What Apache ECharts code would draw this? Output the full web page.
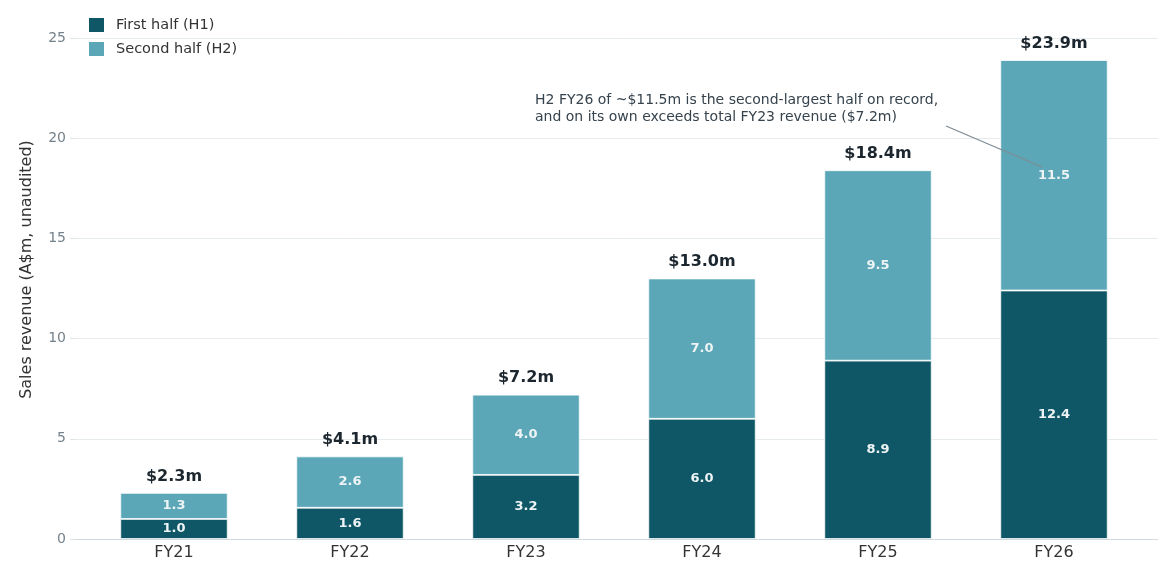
<!DOCTYPE html>
<html>
<head>
<meta charset="utf-8">
<script src="https://cdn.jsdelivr.net/npm/echarts@6/dist/echarts.min.js"></script>
</head>
<body style="margin:0;background:#fff;">
<div id="chart" style="width:1158px;height:569px;"></div>
<script>
    // data
    var years = ['FY21', 'FY22', 'FY23', 'FY24', 'FY25', 'FY26'];
    var firstHalf = [1.0, 1.56, 3.2, 6.0, 8.9, 12.4];
    var secondHalf = [1.3, 2.56, 4.0, 7.0, 9.5, 11.5];
    var yTicks = [0, 5, 10, 15, 20, 25];
    var totals = years.map(function (y, i) {
        return +(firstHalf[i] + secondHalf[i]).toFixed(2);
    });

    var font = 'DejaVu Sans';
    var c1 = '#0f5767';
    var c2 = '#5ba7b7';

    var myChart = echarts.init(document.getElementById('chart'));
    var option = {
        animation: false,
        textStyle: {fontFamily: font},
        legend: {
            orient: 'vertical',
            left: 82,
            top: 11,
            itemWidth: 17,
            itemHeight: 16,
            itemGap: 6,
            icon: 'rect',
            textStyle: {fontSize: 14.5, color: '#333', fontFamily: font, padding: [0, 0, 0, 6]},
            data: ['First half (H1)', 'Second half (H2)']
        },
        grid: [
            // bars
            {left: 86, right: 16, top: 38, bottom: 30},
            // background gridlines and y labels
            {left: 75, right: 0, top: 38, bottom: 30}
        ],
        xAxis: [
            {
                type: 'category',
                gridIndex: 0,
                data: years,
                axisLine: {show: false},
                axisTick: {show: false},
                axisLabel: {fontSize: 16, color: '#333', margin: 6, fontFamily: font}
            },
            {
                type: 'value',
                gridIndex: 1,
                show: false
            }
        ],
        yAxis: [
            {
                type: 'value',
                gridIndex: 0,
                min: 0,
                max: 25,
                interval: 5,
                show: false
            },
            {
                type: 'value',
                gridIndex: 1,
                min: 0,
                max: 25,
                interval: 5,
                name: 'Sales revenue (A$m, unaudited)',
                nameLocation: 'middle',
                nameGap: 40,
                nameTextStyle: {fontSize: 16, color: '#333', fontFamily: font, padding: [0, 0, 0, 38]},
                axisLine: {show: false},
                axisTick: {show: true, length: 5, lineStyle: {color: '#dfe4e7'}},
                axisLabel: {
                    fontSize: 14, color: '#74828c', margin: 9, fontFamily: font,
                    formatter: function (v) { return yTicks.indexOf(v) >= 0 ? String(v) : ''; }
                },
                splitLine: {show: true, lineStyle: {color: '#e6ebee', width: 1}}
            }
        ],
        graphic: [
            {
                type: 'line',
                shape: {x1: 75, y1: 539.5, x2: 1158, y2: 539.5},
                style: {stroke: '#d3dadf', lineWidth: 1.2},
                z: 5
            },
            {
                type: 'text',
                left: 535,
                top: 92,
                style: {
                    text: 'H2 FY26 of ~$11.5m is the second-largest half on record,\nand on its own exceeds total FY23 revenue ($7.2m)',
                    font: '14px "DejaVu Sans"',
                    fill: '#36434d',
                    lineHeight: 17
                },
                z: 10
            },
            {
                type: 'line',
                shape: {x1: 946, y1: 126, x2: 1042, y2: 167},
                style: {stroke: '#7f8c95', lineWidth: 1.3},
                z: 10
            }
        ],
        series: [
            {
                name: 'First half (H1)',
                type: 'bar',
                stack: 'rev',
                xAxisIndex: 0,
                yAxisIndex: 0,
                barWidth: '61%',
                data: firstHalf,
                itemStyle: {color: c1, borderColor: '#ffffff', borderWidth: 0.8},
                label: {
                    show: true,
                    position: 'inside',
                    color: '#eef4f5',
                    fontWeight: 'bold',
                    fontSize: 13,
                    fontFamily: font,
                    formatter: function (p) { return p.value.toFixed(1); }
                }
            },
            {
                name: 'Second half (H2)',
                type: 'bar',
                stack: 'rev',
                xAxisIndex: 0,
                yAxisIndex: 0,
                barWidth: '61%',
                data: secondHalf,
                itemStyle: {color: c2, borderColor: '#ffffff', borderWidth: 0.8},
                label: {
                    show: true,
                    position: 'inside',
                    color: '#eef4f5',
                    fontWeight: 'bold',
                    fontSize: 13,
                    fontFamily: font,
                    formatter: function (p) { return p.value.toFixed(1); }
                }
            },
            {
                name: 'total',
                type: 'scatter',
                xAxisIndex: 0,
                yAxisIndex: 0,
                symbolSize: 1,
                itemStyle: {color: 'rgba(0,0,0,0)', opacity: 1},
                data: totals,
                label: {
                    show: true,
                    position: 'top',
                    distance: 8,
                    color: '#1c262e',
                    fontWeight: 'bold',
                    fontSize: 16,
                    fontFamily: font,
                    formatter: function (p) { return '$' + p.value.toFixed(1) + 'm'; }
                },
                z: 6
            }
        ]
    };
    myChart.setOption(option);
</script>
</body>
</html>
